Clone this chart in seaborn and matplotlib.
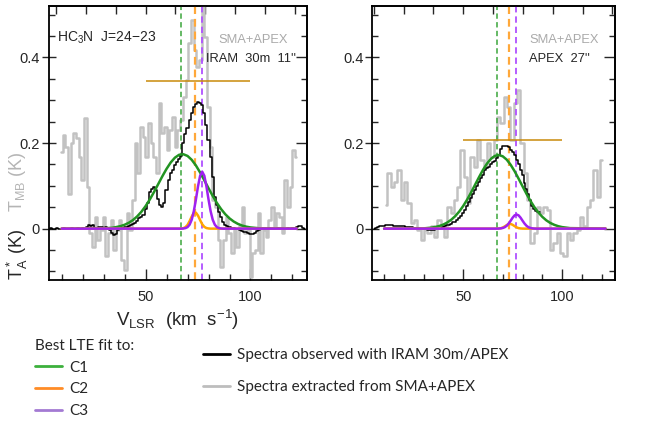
import numpy as np
import pandas as pd
import seaborn as sns
import matplotlib
matplotlib.use("Agg")
import matplotlib.pyplot as plt
from matplotlib.ticker import MultipleLocator, NullFormatter, FixedLocator
from matplotlib.lines import Line2D

# ---------------- data ----------------
# SMA+APEX spectra (grey histograms): first channel centre and width (km/s)
gray_left_start, gray_left_width = 9.8, 1.274
gray_left_T = [0.180, 0.219, 0.191, 0.082, 0.199, 0.223, 0.211, 0.168, 0.114, 0.258,
               0.098, -0.011, -0.042, 0.028, -0.026, -0.003, 0.028, -0.065, -0.011, 0.020,
               -0.050, -0.003, 0.020, -0.073, -0.096, 0.036, -0.003, 0.067, 0.199, 0.129,
               0.238, 0.215, 0.168, 0.246, 0.199, 0.168, 0.129, 0.293, 0.223, 0.238,
               0.184, 0.230, 0.261, 0.191, 0.230, 0.254, 0.308, 0.347, 0.433, 0.487,
               0.417, 0.378, 0.394, 0.540, 0.448, 0.285, 0.191, 0.067, 0.051, -0.026,
               -0.089, -0.026, 0.028, -0.011, -0.058, -0.003, -0.042, 0.005, 0.051, -0.011,
               -0.003, -0.112, -0.058, -0.050, 0.036, -0.058, -0.003, -0.019, 0.020, 0.051,
               0.005, 0.036, 0.028, -0.011, 0.114, 0.051, 0.098, 0.184, 0.168]

gray_right_start, gray_right_width = 10.8, 1.68
gray_right_T = [0.055, 0.129, 0.098, 0.110, 0.137, 0.067, 0.110, 0.059, 0.012, 0.020,
                -0.003, -0.026, -0.003, -0.011, 0.005, -0.019, 0.020, 0.005, -0.019, 0.051,
                0.036, 0.067, 0.098, 0.184, 0.121, 0.059, 0.168, 0.145, 0.207, 0.160,
                0.145, 0.199, 0.168, 0.207, 0.261, 0.246, 0.308, 0.285, 0.207, 0.293,
                0.324, 0.199, 0.129, 0.067, -0.034, -0.011, 0.051, 0.036, 0.051, 0.044,
                -0.050, -0.034, -0.011, -0.058, -0.065, -0.011, -0.026, -0.011, -0.003, 0.028,
                0.005, 0.051, 0.067, 0.137, 0.075, 0.160]

# IRAM 30m spectrum (black), 1 km/s channels from 4 to 126 km/s
iram_v_first, iram_v_last = 4, 126
iram_T = [0.000, 0.001, -0.001, 0.000, 0.001, 0.000,
          -0.001, 0.001, 0.000, -0.001, 0.000, 0.001, 0.000, -0.001, 0.001, 0.000,
          0.002, 0.000, 0.003, 0.008, 0.006, 0.008, 0.002, -0.002, 0.003, 0.004,
          0.001, 0.004, 0.000, -0.003, -0.010, -0.014, -0.012, -0.004, 0.000, 0.002,
          0.004, 0.004, 0.006, 0.008, 0.010, 0.012, 0.018, 0.024, 0.028, 0.032,
          0.045, 0.060, 0.085, 0.092, 0.098, 0.090, 0.070, 0.055, 0.051, 0.059,
          0.090, 0.114, 0.129, 0.137, 0.149, 0.156, 0.163, 0.170, 0.199, 0.222,
          0.235, 0.254, 0.269, 0.285, 0.292, 0.296, 0.294, 0.288, 0.269, 0.242,
          0.207, 0.168, 0.121, 0.075, 0.056, 0.040, 0.028, 0.016, 0.009, 0.006,
          0.004, 0.002, 0.001, 0.000, -0.002, -0.004, -0.006, -0.007, -0.008, -0.010,
          -0.012, -0.013, -0.010, -0.006, -0.003, 0.000, 0.001, -0.001, 0.000, 0.001,
          0.000, -0.001, 0.000, 0.001, 0.000, 0.002, 0.000, -0.001, 0.001, 0.000,
          0.002, 0.000, 0.003, 0.006, 0.005, 0.002, 0.000]

# APEX spectrum (black), 1 km/s channels from 5 to 89 km/s
apex_v_first, apex_v_last = 5, 89
apex_T = [0.000, 0.002, 0.004, 0.006, 0.007,
          0.007, 0.008, 0.008, 0.008, 0.008, 0.007, 0.007, 0.006, 0.006, 0.005,
          0.005, 0.004, 0.004, 0.003, 0.003, 0.002, 0.002, 0.001, 0.000, -0.001,
          -0.002, -0.002, -0.003, -0.003, -0.003, -0.003, -0.002, -0.002, 0.000, 0.002,
          0.003, 0.005, 0.008, 0.008, 0.010, 0.016, 0.016, 0.020, 0.024, 0.030,
          0.036, 0.044, 0.052, 0.062, 0.071, 0.082, 0.090, 0.100, 0.110, 0.118,
          0.125, 0.137, 0.141, 0.145, 0.151, 0.155, 0.159, 0.166, 0.172, 0.187,
          0.193, 0.194, 0.193, 0.190, 0.184, 0.178, 0.172, 0.160, 0.150, 0.138,
          0.125, 0.106, 0.092, 0.080, 0.067, 0.052, 0.045, 0.042, 0.040, 0.040]

# Best LTE fits (curves)
c1_v = [10, 30, 34, 36, 38, 40, 42, 44, 46, 48, 50, 52, 54, 56, 58, 60, 62, 64, 66, 68,
        70, 72, 74, 76, 78, 80, 82, 84, 86, 88, 90, 92, 94, 96, 98, 100, 104, 122]
c1_left = [0, 0.0005, 0.0020, 0.0036, 0.0058, 0.0090, 0.0136, 0.0200, 0.0285, 0.0393,
           0.0525, 0.0679, 0.0852, 0.1037, 0.1223, 0.1396, 0.1546, 0.1658, 0.1725, 0.1738,
           0.1698, 0.1607, 0.1475, 0.1311, 0.1130, 0.0944, 0.0764, 0.0599, 0.0456, 0.0336,
           0.0240, 0.0166, 0.0111, 0.0072, 0.0046, 0.0028, 0.0009, 0]
c1_right = [0, 0.0006, 0.0024, 0.0040, 0.0063, 0.0097, 0.0145, 0.0210, 0.0294, 0.0401,
            0.0530, 0.0680, 0.0847, 0.1026, 0.1204, 0.1372, 0.1518, 0.1630, 0.1699, 0.1720,
            0.1689, 0.1611, 0.1491, 0.1340, 0.1168, 0.0989, 0.0813, 0.0649, 0.0502, 0.0378,
            0.0276, 0.0195, 0.0134, 0.0090, 0.0058, 0.0036, 0.0012, 0]

c2_v = [10, 66, 67, 68, 69, 70, 71, 72, 73, 74, 75, 76, 77, 78, 79, 80, 81, 122]
c2_left = [0, 0, 0.0003, 0.0011, 0.0035, 0.0087, 0.0177, 0.0284, 0.0365, 0.0373,
           0.0304, 0.0198, 0.0102, 0.0042, 0.0014, 0.0004, 0, 0]
c2_right = [0, 0, 0.0001, 0.0003, 0.0010, 0.0026, 0.0052, 0.0083, 0.0107, 0.0109,
            0.0089, 0.0058, 0.0030, 0.0012, 0.0004, 0.0001, 0, 0]

c3_v = [10, 67, 68, 69, 70, 71, 72, 73, 74, 75, 76, 77, 78, 79, 80, 81, 82, 83, 84, 85,
        86, 87, 122]
c3_left = [0, 0, 0.0003, 0.0012, 0.0035, 0.0093, 0.0209, 0.0407, 0.0683, 0.0989,
           0.1235, 0.1330, 0.1235, 0.0989, 0.0683, 0.0407, 0.0209, 0.0093, 0.0035, 0.0012,
           0.0003, 0, 0]
c3_right = [0, 0, 0.0002, 0.0006, 0.0015, 0.0033, 0.0067, 0.0119, 0.0186, 0.0256,
            0.0310, 0.0330, 0.0310, 0.0256, 0.0186, 0.0119, 0.0067, 0.0033, 0.0015, 0.0006,
            0.0002, 0, 0]

# component velocities (dashed lines) and horizontal reference levels
comp_v = [67.0, 73.4, 76.9]
hline_range = [50, 100]
hline_left, hline_right = 0.345, 0.206

# ---------------- style ----------------
sns.set_style("ticks")
plt.rcParams["font.family"] = ["Liberation Sans", "DejaVu Sans"]
plt.rcParams["mathtext.default"] = "regular"

GREEN, ORANGE, PURPLE = "#229422", "#ffa500", "#a020f0"
VGREEN, VORANGE, VPURPLE = "#3aa53a", "#ffa83a", "#b050ff"
GRAY = "#c2c2c2"
GOLD = "#c98a0a"

fig = plt.figure(figsize=(6.5, 4.26), dpi=100)
axL = fig.add_axes([0.0754, 0.3427, 0.3965, 0.6432])
axR = fig.add_axes([0.5728, 0.3427, 0.3734, 0.6432])


def channels(start, width, n):
    return start + width * np.arange(n)


def panel(ax, gv, gT, bv, bT, c1, c2, c3, hl, top_step):
    sns.lineplot(x=gv, y=gT, ax=ax, color=GRAY, lw=1.8, drawstyle="steps-mid",
                 estimator=None, sort=False, zorder=1)
    for v, c, lw in zip(comp_v, [VGREEN, VORANGE, VPURPLE], [1.1, 1.6, 1.3]):
        ax.axvline(v, color=c, lw=lw, ls=(0, (3.5, 2.2)), zorder=2)
    sns.lineplot(x=bv, y=bT, ax=ax, color="black", lw=1.1, drawstyle="steps-mid",
                 estimator=None, sort=False, zorder=3)
    ax.hlines(hl, hline_range[0], hline_range[1], color=GOLD, lw=1.1, zorder=3)
    sns.lineplot(x=c1_v, y=c1, ax=ax, color=GREEN, lw=1.8, estimator=None, sort=False, zorder=4)
    sns.lineplot(x=c2_v, y=c2, ax=ax, color=ORANGE, lw=1.8, estimator=None, sort=False, zorder=5)
    sns.lineplot(x=c3_v, y=c3, ax=ax, color=PURPLE, lw=1.8, estimator=None, sort=False, zorder=6)

    ax.set_xlim(4, 126.8)
    ax.set_ylim(-0.12, 0.52)
    ax.xaxis.set_major_locator(FixedLocator([50, 100]))
    ax.xaxis.set_minor_locator(MultipleLocator(10))
    ax.yaxis.set_major_locator(FixedLocator([0, 0.2, 0.4]))
    ax.yaxis.set_minor_locator(MultipleLocator(0.05))
    ax.yaxis.set_major_formatter(matplotlib.ticker.FuncFormatter(
        lambda y, p: "0" if abs(y) < 1e-9 else f"{y:.1f}"))
    ax.tick_params(axis="x", which="major", direction="in", length=8, width=1,
                   labelsize=10.5, pad=7, top=False)
    ax.tick_params(axis="x", which="minor", direction="in", length=4, width=1, top=False)
    ax.tick_params(axis="y", which="major", direction="inout", length=10, width=1,
                   labelsize=10.5, pad=1.5, right=False)
    ax.tick_params(axis="y", which="minor", direction="in", length=4, width=1, right=False)
    for s in ax.spines.values():
        s.set_linewidth(1.3)
        s.set_color("black")
    ax.set_xlabel("")
    ax.set_ylabel("")

    # right-hand ticks
    ry = ax.secondary_yaxis("right")
    ry.yaxis.set_major_locator(FixedLocator([0, 0.2, 0.4]))
    ry.yaxis.set_minor_locator(MultipleLocator(0.05))
    ry.yaxis.set_major_formatter(NullFormatter())
    ry.tick_params(which="major", direction="in", length=8, width=1)
    ry.tick_params(which="minor", direction="in", length=4, width=1)
    ry.spines["right"].set_linewidth(1.3)

    # top (frequency) ticks
    tx = ax.secondary_xaxis("top", functions=(lambda v: (v - 50) / top_step,
                                               lambda f: f * top_step + 50))
    tx.xaxis.set_major_locator(MultipleLocator(1))
    tx.xaxis.set_major_formatter(NullFormatter())
    tx.tick_params(which="major", direction="in", length=6, width=1)
    tx.tick_params(which="minor", length=0)
    tx.spines["top"].set_linewidth(1.3)


panel(axL,
      channels(gray_left_start, gray_left_width, len(gray_left_T)), gray_left_T,
      np.arange(iram_v_first, iram_v_last + 1), iram_T,
      c1_left, c2_left, c3_left, hline_left, 14.2)
panel(axR,
      channels(gray_right_start, gray_right_width, len(gray_right_T)), gray_right_T,
      np.arange(apex_v_first, apex_v_last + 1), apex_T,
      c1_right, c2_right, c3_right, hline_right, 15.1)

# panel annotations
FS = 9.3
axL.text(0.031, 0.883, "HC$_3$N  J=24$-$23", transform=axL.transAxes, fontsize=10,
         ha="left", va="center")
axL.text(0.927, 0.876, "SMA+APEX", transform=axL.transAxes, fontsize=FS,
         ha="right", va="center", color="#aaaaaa")
axL.text(0.958, 0.807, "IRAM  30m  11''", transform=axL.transAxes, fontsize=FS,
         ha="right", va="center")
axR.text(0.934, 0.876, "SMA+APEX", transform=axR.transAxes, fontsize=FS,
         ha="right", va="center", color="#aaaaaa")
axR.text(0.898, 0.807, "APEX  27''", transform=axR.transAxes, fontsize=FS,
         ha="right", va="center")

# axis labels
axL.set_xlabel("V$_{LSR}$  (km  s$^{-1}$)", fontsize=13.5, labelpad=3)
fig.text(17 / 650, 1 - 280 / 426, "T$_A^*$ (K)", rotation=90, fontsize=13,
         ha="center", va="bottom")
fig.text(17 / 650, 1 - 212 / 426, "T$_{MB}$ (K)", rotation=90, fontsize=13,
         ha="center", va="bottom", color="#b5b5b5")

# legends
leg_font = {"family": ["Lato", "DejaVu Sans"], "size": 11}
fit_handles = [Line2D([], [], color="#3cb03c", lw=2),
               Line2D([], [], color="#ff8c26", lw=2),
               Line2D([], [], color="#a37ad3", lw=2)]
fig.legend(fit_handles, ["C1", "C2", "C3"], loc="upper left",
           bbox_to_anchor=(35 / 650, 1 - 339 / 426), frameon=False,
           prop=leg_font, title="Best LTE fit to:", title_fontproperties=leg_font,
           alignment="left", handlelength=1.75, handletextpad=0.5,
           labelspacing=0.5, borderpad=0.0, borderaxespad=0.0)
spec_handles = [Line2D([], [], color="black", lw=2),
                Line2D([], [], color="#bdbdbd", lw=2)]
fig.legend(spec_handles, ["Spectra observed with IRAM 30m/APEX",
                          "Spectra extracted from SMA+APEX"],
           loc="upper left", bbox_to_anchor=(203 / 650, 1 - 348 / 426), frameon=False,
           prop=leg_font, handlelength=1.75, handletextpad=0.5, labelspacing=1.2,
           borderpad=0.0, borderaxespad=0.0)

fig.savefig("out.png", dpi=100)
